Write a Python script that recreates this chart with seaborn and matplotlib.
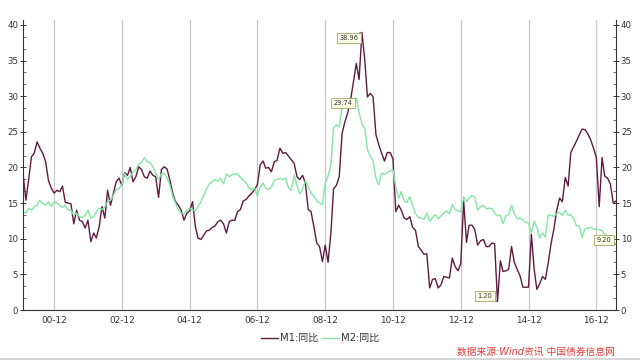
import matplotlib
matplotlib.use("Agg")
import matplotlib.pyplot as plt
import matplotlib.dates as mdates
from matplotlib.ticker import MultipleLocator, AutoMinorLocator
from matplotlib.lines import Line2D
import seaborn as sns
import pandas as pd

# ---- data (monthly, 2000-01 .. 2017-07) ----
start_month = "2000-01-01"
m1 = [
    19.2, 15.4, 18.2, 21.5, 22.0, 23.6, 22.7, 22.0, 20.8, 18.2, 17.1, 16.4,
    16.8, 16.6, 17.4, 15.1, 15.0, 14.9, 12.1, 14.0, 12.6, 12.4, 11.5, 12.6,
    9.6, 10.8, 10.1, 11.7, 14.5, 12.9, 16.8, 14.7, 16.4, 18.0, 18.5, 17.5,
    19.3, 18.9, 20.0, 18.0, 18.7, 20.1, 19.7, 18.7, 18.5, 19.5, 18.9, 18.7,
    15.8, 19.7, 20.1, 19.8, 18.3, 16.4, 15.2, 14.7, 14.0, 12.6, 13.6, 13.9,
    15.2, 11.7, 10.1, 9.9, 10.5, 11.1, 11.2, 11.6, 11.8, 12.4, 12.6, 12.1,
    10.8, 12.4, 12.6, 12.6, 13.8, 14.1, 15.3, 15.5, 16.0, 16.4, 16.9, 17.6,
    20.4, 20.9, 19.9, 20.0, 19.4, 20.8, 21.0, 22.7, 22.0, 22.1, 21.6, 21.1,
    20.6, 18.7, 18.3, 18.9, 17.8, 14.1, 13.8, 11.7, 9.4, 8.9, 6.8, 9.1,
    6.7, 10.9, 17.0, 17.5, 18.7, 24.8, 26.4, 27.7, 29.5, 32.0, 34.6, 32.35,
    38.96, 35.0, 29.9, 30.4, 29.9, 24.6, 23.2, 22.0, 20.9, 22.1, 22.1, 21.2,
    13.8, 14.7, 14.0, 12.9, 12.7, 13.1, 11.6, 11.2, 8.9, 8.4, 7.8, 7.9,
    3.1, 4.3, 4.4, 3.1, 3.5, 4.7, 4.6, 4.5, 7.3, 6.1, 5.5, 6.5,
    15.3, 9.5, 11.9, 11.9, 11.3, 9.1, 9.7, 9.9, 8.9, 8.9, 9.4, 9.3,
    1.2, 6.9, 5.4, 5.5, 5.7, 8.9, 6.7, 5.7, 4.8, 3.2, 3.2, 3.2,
    10.6, 5.6, 2.9, 3.7, 4.7, 4.3, 6.6, 9.3, 11.4, 14.0, 15.7, 15.2,
    18.6, 17.4, 22.1, 22.9, 23.7, 24.6, 25.4, 25.3, 24.7, 23.9, 22.7, 21.4,
    14.5, 21.4, 18.8, 18.5, 17.7, 15.0, 15.3,
]
m2 = [
    13.8, 13.6, 14.3, 14.0, 14.5, 14.7, 15.4, 15.0, 14.7, 15.2, 14.5, 15.2,
    15.0, 14.7, 14.4, 14.7, 14.0, 14.0, 13.3, 13.6, 13.1, 13.0, 13.3, 14.0,
    12.9, 13.1, 13.8, 14.3, 14.1, 14.5, 15.2, 15.4, 16.1, 16.9, 17.0, 17.6,
    19.2, 18.3, 18.7, 19.4, 19.7, 20.5, 20.7, 21.4, 20.8, 20.7, 20.1, 19.2,
    18.3, 19.1, 19.2, 18.5, 17.6, 16.0, 15.0, 14.0, 13.6, 13.5, 14.0, 14.3,
    14.0, 14.0, 14.5, 15.2, 16.0, 17.0, 17.7, 18.0, 18.3, 18.1, 18.5, 17.7,
    19.1, 18.7, 19.0, 19.1, 19.1, 18.6, 18.2, 17.9, 17.1, 16.9, 17.1, 16.0,
    17.3, 17.8, 17.1, 16.9, 17.3, 18.2, 18.3, 18.5, 18.3, 18.5, 17.1, 16.8,
    18.9, 17.5, 16.3, 16.9, 18.1, 17.4, 16.4, 16.0, 15.3, 15.0, 14.8, 17.8,
    18.8, 20.5, 25.5, 26.0, 25.7, 28.5, 28.4, 28.5, 29.3, 29.4, 29.74, 27.7,
    26.1, 25.5, 22.5, 21.5, 21.0, 18.5, 17.6, 19.2, 19.0, 19.3, 19.5, 19.7,
    17.2, 15.7, 16.6, 15.3, 15.1, 15.9, 14.7, 13.5, 13.0, 12.9, 12.7, 13.6,
    12.4, 13.0, 13.4, 12.8, 13.2, 13.6, 13.9, 13.5, 14.8, 14.1, 13.9, 13.8,
    15.9, 15.2, 15.7, 16.1, 15.8, 14.0, 14.5, 14.7, 14.2, 14.3, 14.2, 13.6,
    13.2, 13.3, 12.1, 13.2, 13.4, 14.7, 13.5, 12.8, 12.9, 12.6, 12.3, 12.2,
    10.8, 12.5, 11.6, 10.1, 10.8, 10.2, 13.3, 13.3, 13.1, 13.5, 13.7, 13.3,
    14.0, 13.3, 13.4, 12.8, 11.8, 11.8, 10.2, 11.4, 11.5, 11.6, 11.4, 11.3,
    11.3, 11.1, 10.6, 10.5, 9.6, 9.4, 9.2,
]
series_names = ["M1:同比", "M2:同比"]
series_colors = ["#5e1b40", "#82e6a4"]
callouts = [("M1:同比", "2010-01-01", "38.96"), ("M2:同比", "2009-11-01", "29.74"),
            ("M1:同比", "2014-01-01", "1.20"), ("M2:同比", "2017-07-01", "9.20")]
source_text = "数据来源:Wind资讯 中国债券信息网"

dates = pd.date_range(start_month, periods=len(m1), freq="MS")
df = pd.concat([
    pd.DataFrame({"date": dates, "value": m1, "series": series_names[0]}),
    pd.DataFrame({"date": dates, "value": m2, "series": series_names[1]}),
])

sns.set_theme(style="white")
plt.rcParams["font.family"] = ["DejaVu Sans", "Noto Sans CJK SC"]

fig = plt.figure(figsize=(6.4, 3.6), dpi=100)
ax = fig.add_axes([23 / 640, 1 - 310 / 360, (616 - 23) / 640, (310 - 20) / 360])

sns.lineplot(data=df, x="date", y="value", hue="series", hue_order=series_names,
             palette=series_colors, linewidth=1.0, ax=ax, legend=False)

ax.set_xlim(dates[0], dates[-1])
ax.set_ylim(0, 40.7)
ax.set_xlabel("")
ax.set_ylabel("")

# x axis: Dec of even years major, Dec of odd years minor
major_dates = [d for d in dates if d.month == 12 and d.year % 2 == 0]
minor_dates = [d for d in dates if d.month == 12 and d.year % 2 == 1]
ax.set_xticks(major_dates)
ax.set_xticks(minor_dates, minor=True)
ax.xaxis.set_major_formatter(mdates.DateFormatter("%y-%m"))
ax.grid(axis="x", which="major", color="#c8c8c8", linewidth=0.9)
ax.grid(axis="y", visible=False)

ax.yaxis.set_major_locator(MultipleLocator(5))
ax.yaxis.set_minor_locator(AutoMinorLocator(3))
ax.yaxis.set_ticks_position("both")
ax.tick_params(axis="y", which="major", direction="inout", length=5, width=0.7,
               labelsize=6.2, labelright=True, labelleft=True, pad=1, colors="#333333")
ax.tick_params(axis="y", which="minor", direction="in", length=2.5, width=0.6,
               left=True, right=True, color="#555555")
ax.tick_params(axis="x", which="major", direction="inout", length=5, width=0.7,
               labelsize=6.4, pad=2, colors="#333333")
ax.tick_params(axis="x", which="minor", direction="inout", length=3, width=0.7,
               color="#333333")

for side in ["left", "right", "bottom"]:
    ax.spines[side].set_visible(True)
    ax.spines[side].set_color("#333333")
    ax.spines[side].set_linewidth(0.8)
ax.spines["top"].set_visible(False)

# callout boxes
offsets = {"38.96": (-9.5, -4), "29.74": (-9.5, -3.6), "1.20": (-9, 4), "9.20": (-8.6, 3.2)}
for name, d, label in callouts:
    vals = m1 if name == series_names[0] else m2
    idx = list(dates).index(pd.Timestamp(d))
    ax.annotate(label, xy=(dates[idx], vals[idx]), xytext=offsets[label],
                textcoords="offset points", ha="center", va="center", fontsize=4.8,
                color="#333333",
                bbox=dict(boxstyle="square,pad=0.35", fc="#fbfbe3", ec="#a5a56a", lw=0.6),
                arrowprops=dict(arrowstyle="-|>", color="#777777", lw=0.4,
                                mutation_scale=3, shrinkA=0, shrinkB=0))

handles = [Line2D([], [], color=c, lw=1.0) for c in series_colors]
ax.legend(handles, series_names, loc="center", bbox_to_anchor=(0.5, 1 - 338 / 360),
          bbox_transform=fig.transFigure, ncol=2, frameon=False, fontsize=7.2,
          handlelength=1.7, handletextpad=0.15, columnspacing=0.4,
          labelcolor="#333333")

fig.lines.append(Line2D([0, 1], [1 - 359 / 360, 1 - 359 / 360], transform=fig.transFigure,
                        color="#cfcfcf", lw=1.2))
fig.text(615 / 640, 1 - 352 / 360, source_text, ha="right", va="center", fontsize=7,
         color="#e03c3c", style="italic")

fig.savefig("out.png", dpi=100)
